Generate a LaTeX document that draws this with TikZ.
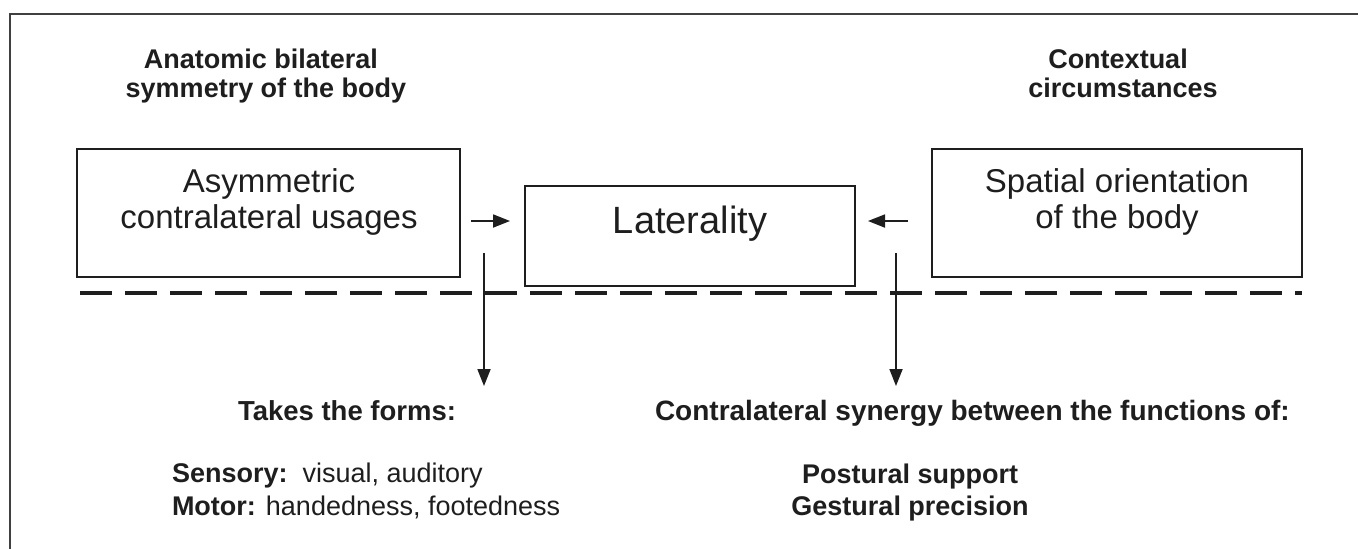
\documentclass[tikz,border=0pt]{standalone}
\usepackage{fontspec}
\setmainfont{Liberation Sans}
\usetikzlibrary{arrows.meta,calc}
\definecolor{ink}{HTML}{1E1E1E}
\begin{document}
\begin{tikzpicture}[x=1pt,y=-1pt,
  every node/.style={inner sep=0pt,outer sep=0pt,text=ink},
  box/.style={draw=ink,line width=1.8pt,rectangle},
  head/.style={font=\fontsize{27}{30}\selectfont\bfseries,anchor=base},
  boxtext/.style={font=\fontsize{33}{36}\selectfont,anchor=base},
  body/.style={font=\fontsize{27}{30}\selectfont,anchor=base west},
  arr/.style={draw=ink,line width=1.8pt,-{Triangle[length=17pt,width=13pt]}},
  divider/.style={draw=ink,line width=4pt,dash pattern=on 32pt off 13pt},
  frameline/.style={draw=ink!85,line width=1.8pt}]
\useasboundingbox (0,0) rectangle (1358,549);

% partial outer frame
\coordinate (fbl) at (10,549);
\coordinate (ftl) at (10,14);
\coordinate (ftr) at (1358,14);
\draw[frameline] (fbl) -- (ftl) -- (ftr);

% column headings
\node[head] (h1a) at (261,68) {Anatomic bilateral};
\node[head] (h1b) at (266,97) {symmetry of the body};
\node[head] (h2a) at (1118,68) {Contextual};
\node[head] (h2b) at (1123,97) {circumstances};

% the three boxes
\node[box,minimum width=383pt,minimum height=128pt] (asym) at (268.5,213) {};
\node[box,minimum width=330pt,minimum height=100pt] (lat) at (690,236) {};
\node[box,minimum width=370pt,minimum height=128pt] (spat) at (1117,213) {};

\node[boxtext] (asym1) at (269,192) {Asymmetric};
\node[boxtext] (asym2) at (269,228) {contralateral usages};
\node[font=\fontsize{38}{42}\selectfont,anchor=base] (latt) at (690,233) {Laterality};
\node[boxtext] (spat1) at (1117,192) {Spatial orientation};
\node[boxtext] (spat2) at (1117,228) {of the body};

% dashed divider
\coordinate (dl) at (80,293);
\coordinate (dr) at (1302,293);
\draw[divider] (dl) -- (dr);

% horizontal arrows into the central box
\draw[arr] ($(asym.east)+(11,8)$) -- ($(lat.west)+(-15,-15)$);
\draw[arr] ($(spat.west)+(-24,8)$) -- ($(lat.east)+(13,-15)$);

% vertical arrows down to the lists
\coordinate (lend) at (484,386);
\coordinate (rend) at (896,386);
\draw[arr] ($(asym.south east)+(24,-24)$) -- (lend);
\draw[arr] ($(spat.south west)+(-36,-24)$) -- (rend);

% lower left list
\node[body,font=\fontsize{27.5}{30}\selectfont\bfseries] (forms) at (238,420) {Takes the forms:};
\node[body] (sens) at (172,482) {\textbf{Sensory:}\ \ visual, auditory};
\node[body] (mot) at (172,515) {\textbf{Motor:} handedness, footedness};

% lower right list
\node[body,font=\fontsize{28}{30}\selectfont\bfseries] (syn) at (655,420) {Contralateral synergy between the functions of:};
\node[head] (post) at (910,483) {Postural support};
\node[head] (gest) at (910,515) {Gestural precision};
\end{tikzpicture}
\end{document}
